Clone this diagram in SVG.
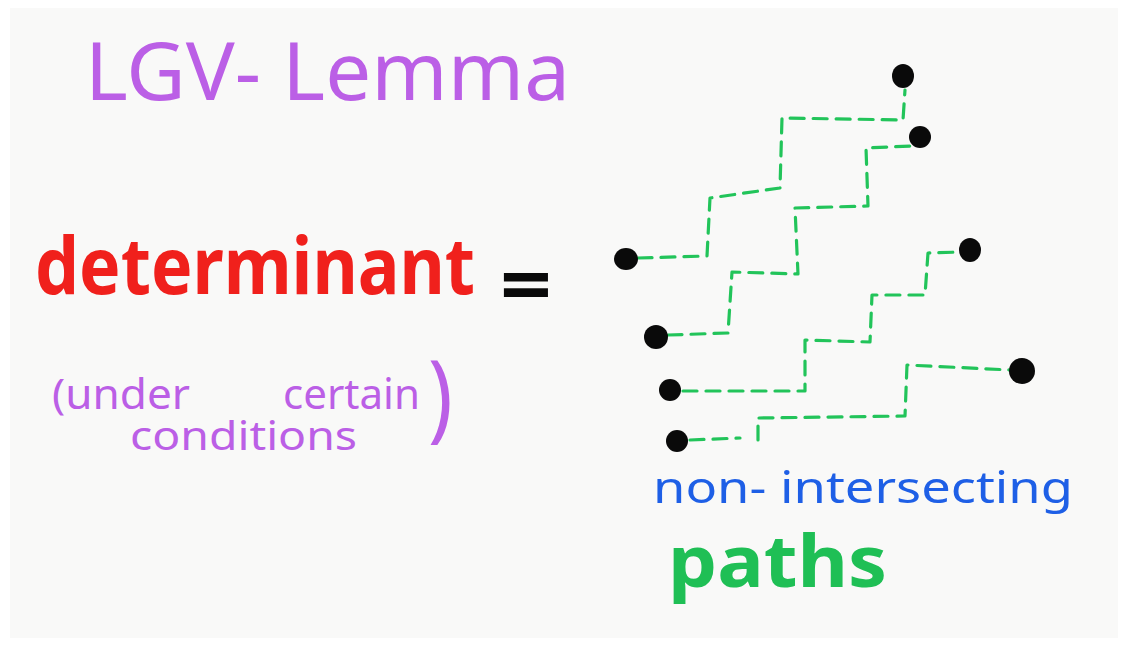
<svg xmlns="http://www.w3.org/2000/svg" width="1124" height="645" viewBox="0 0 1124 645">
  <style>
    .hand { font-family: "Noto Sans", "Liberation Sans", sans-serif; }
    .purple { fill: #bb5fe6; }
    .path { fill: none; stroke: #22c45a; stroke-width: 3.2; stroke-dasharray: 14 9; stroke-linecap: round; stroke-linejoin: round; }
    .dot { fill: #0a0a0a; }
  </style>
  <rect x="0" y="0" width="1124" height="645" fill="#ffffff"/>
  <rect x="10" y="8" width="1108" height="630" fill="#f9f9f8"/>

  <g id="title">
    <text class="hand purple" x="85" y="100" font-size="80" textLength="485" lengthAdjust="spacingAndGlyphs">LGV- Lemma</text>
  </g>

  <g id="determinant">
    <text class="hand" transform="translate(35,294) scale(1,1.1)" x="0" y="0" font-size="72" font-weight="bold" fill="#f0201c" textLength="440" lengthAdjust="spacingAndGlyphs">determinant</text>
  </g>

  <g id="equals">
    <text class="hand" transform="translate(500,314) scale(1,1)" x="0" y="0" font-size="80" font-weight="bold" fill="#0a0a0a" textLength="52" lengthAdjust="spacingAndGlyphs">=</text>
  </g>

  <g id="conditions">
    <text class="hand purple" x="52" y="409" font-size="42" textLength="138" lengthAdjust="spacingAndGlyphs">(under</text>
    <text class="hand purple" x="283" y="409" font-size="42" textLength="137" lengthAdjust="spacingAndGlyphs">certain</text>
    <text class="hand purple" x="130" y="450" font-size="40" textLength="227" lengthAdjust="spacingAndGlyphs">conditions</text>
    <text class="hand purple" transform="translate(428,430) scale(0.85,1)" x="0" y="0" font-size="97">)</text>
  </g>

  <g id="connectors">
    <path class="path" d="M638,258 L707,256 L710,198 L780,188 L782,118 L903,120 L905,90"/>
    <path class="path" d="M668,335 L728,333 L732,272 L798,274 L795,208 L868,206 L866,148 L912,146"/>
    <path class="path" d="M683,391 L805,391 L805,340 L870,342 L872,295 L925,295 L928,253 L960,252"/>
    <path class="path" d="M690,440 L740,438"/>
    <path class="path" d="M758,440 L758,418 L905,416 L907,365 L1010,370"/>
  </g>

  <g id="start-1"><ellipse class="dot" cx="626" cy="259" rx="12" ry="11"/></g>
  <g id="start-2"><ellipse class="dot" cx="656" cy="337" rx="12" ry="12"/></g>
  <g id="start-3"><ellipse class="dot" cx="670" cy="390" rx="11" ry="11"/></g>
  <g id="start-4"><ellipse class="dot" cx="677" cy="441" rx="11" ry="11"/></g>
  <g id="end-1"><ellipse class="dot" cx="903" cy="76" rx="11" ry="12"/></g>
  <g id="end-2"><ellipse class="dot" cx="920" cy="137" rx="11" ry="11"/></g>
  <g id="end-3"><ellipse class="dot" cx="970" cy="250" rx="11" ry="12"/></g>
  <g id="end-4"><ellipse class="dot" cx="1022" cy="371" rx="13" ry="13"/></g>

  <g id="label-nonintersecting">
    <text class="hand" x="653" y="503" font-size="44" fill="#1e5fe6" textLength="420" lengthAdjust="spacingAndGlyphs">non- intersecting</text>
  </g>

  <g id="label-paths">
    <text class="hand" x="668" y="587" font-size="72" font-weight="bold" fill="#1fbf55" textLength="219" lengthAdjust="spacingAndGlyphs">paths</text>
  </g>
</svg>
